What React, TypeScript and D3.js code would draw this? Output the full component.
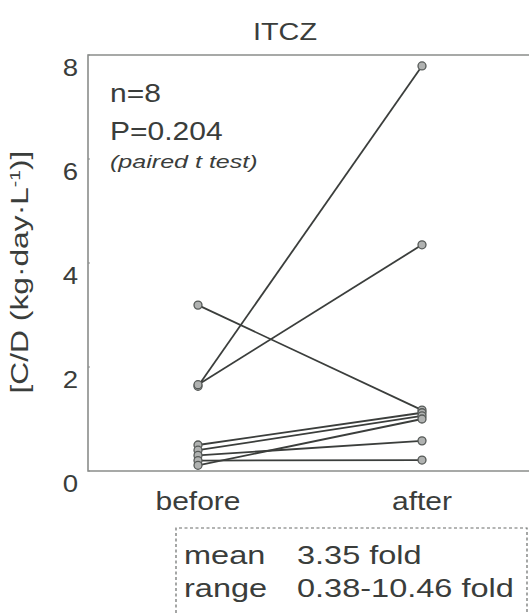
import React from 'react';
import * as d3 from 'd3';

const groups = ['before', 'after'];
const beforeVals = [1.63, 1.66, 3.19, 0.5, 0.4, 0.3, 0.2, 0.11];
const afterVals = [7.79, 4.35, 1.17, 1.12, 1.06, 0.58, 0.21, 1.0];
const yTicks = [0, 2, 4, 6, 8];
const title = 'ITCZ';
const statLines = ['n=8', 'P=0.204'];
const testLabel = '(paired t test)';
const summaryLabels = ['mean', 'range'];
const summaryValues = ['3.35 fold', '0.38-10.46 fold'];

const W = 529;
const H = 614;
const FONT = '"Liberation Sans", Arial, Helvetica, sans-serif';
const TXT = '#3a3d3b';

function T({ x, y, size, anchor = 'start', sx = 1.2, italic = false, children }: any) {
  return (
    <g transform={`translate(${x},${y}) scale(${sx},1)`}>
      <text
        textAnchor={anchor}
        fontFamily={FONT}
        fontSize={size}
        fontStyle={italic ? 'italic' : 'normal'}
        fill={TXT}
      >
        {children}
      </text>
    </g>
  );
}

export default function App() {
  const left = 88, right = 545, top = 55, bottom = 471;
  const x = d3.scalePoint<string>().domain(groups).range([198, 422]);
  const y = d3.scaleLinear().domain([0, 8]).range([bottom, top]);
  const pairs = beforeVals.map((b, i) => ({ b, a: afterVals[i] }));
  const line = d3.line<[number, number]>();

  return (
    <svg width={W} height={H} style={{ position: 'absolute', left: 0, top: 0, background: '#fff' }}>
      <rect x={0} y={0} width={W} height={H} fill="#fff" />
      <T x={285} y={40} size={24} anchor="middle">{title}</T>

      {/* frame */}
      <path d={`M${right},${top}H${left}V${bottom}H${right}`} fill="none" stroke="#8a8d8b" strokeWidth={1.6} />

      {yTicks.map((t) => (
        <g key={t}>
          <line x1={left} x2={left + 2} y1={y(t)} y2={y(t)} stroke="#8a8d8b" strokeWidth={1} />
          <T x={78} y={y(t) + 21} size={23} anchor="end">{t}</T>
        </g>
      ))}

      {/* y label */}
      <g transform={`translate(28,272) rotate(-90) scale(1.38,1)`}>
        <text textAnchor="middle" fontFamily={FONT} fontSize={23} fill={TXT}>
          [C/D (kg{'\u00B7'}day{'\u00B7'}L<tspan dy={-8} fontSize={14}>-1</tspan><tspan dy={8}>)]</tspan>
        </text>
      </g>

      {/* stats */}
      {statLines.map((s, i) => (
        <T key={s} x={110} y={102 + i * 38} size={25}>{s}</T>
      ))}
      <T x={110} y={168} size={19} sx={1.32} italic>{testLabel}</T>

      {/* lines */}
      {pairs.map((p, i) => (
        <path
          key={'l' + i}
          d={line([[x('before')!, y(p.b)], [x('after')!, y(p.a)]]) || ''}
          stroke="#3b3e3c"
          strokeWidth={1.8}
          fill="none"
        />
      ))}
      {pairs.map((p, i) => (
        <g key={'c' + i}>
          <circle cx={x('before')} cy={y(p.b)} r={4} fill="#b0b2b1" stroke="#555957" strokeWidth={1.3} />
          <circle cx={x('after')} cy={y(p.a)} r={4} fill="#b0b2b1" stroke="#555957" strokeWidth={1.3} />
        </g>
      ))}

      {groups.map((g) => (
        <T key={g} x={x(g)!} y={510} size={25} anchor="middle">{g}</T>
      ))}

      {/* summary box */}
      <path d={`M176,${H + 10}V528H527V${H + 10}`} fill="none" stroke="#6a6d6b" strokeWidth={1.2} strokeDasharray="3,2.5" />
      {summaryLabels.map((s, i) => (
        <g key={s}>
          <T x={184} y={564 + i * 33} size={26} sx={1.25}>{s}</T>
          <T x={297} y={564 + i * 33} size={26} sx={1.25}>{summaryValues[i]}</T>
        </g>
      ))}
    </svg>
  );
}
